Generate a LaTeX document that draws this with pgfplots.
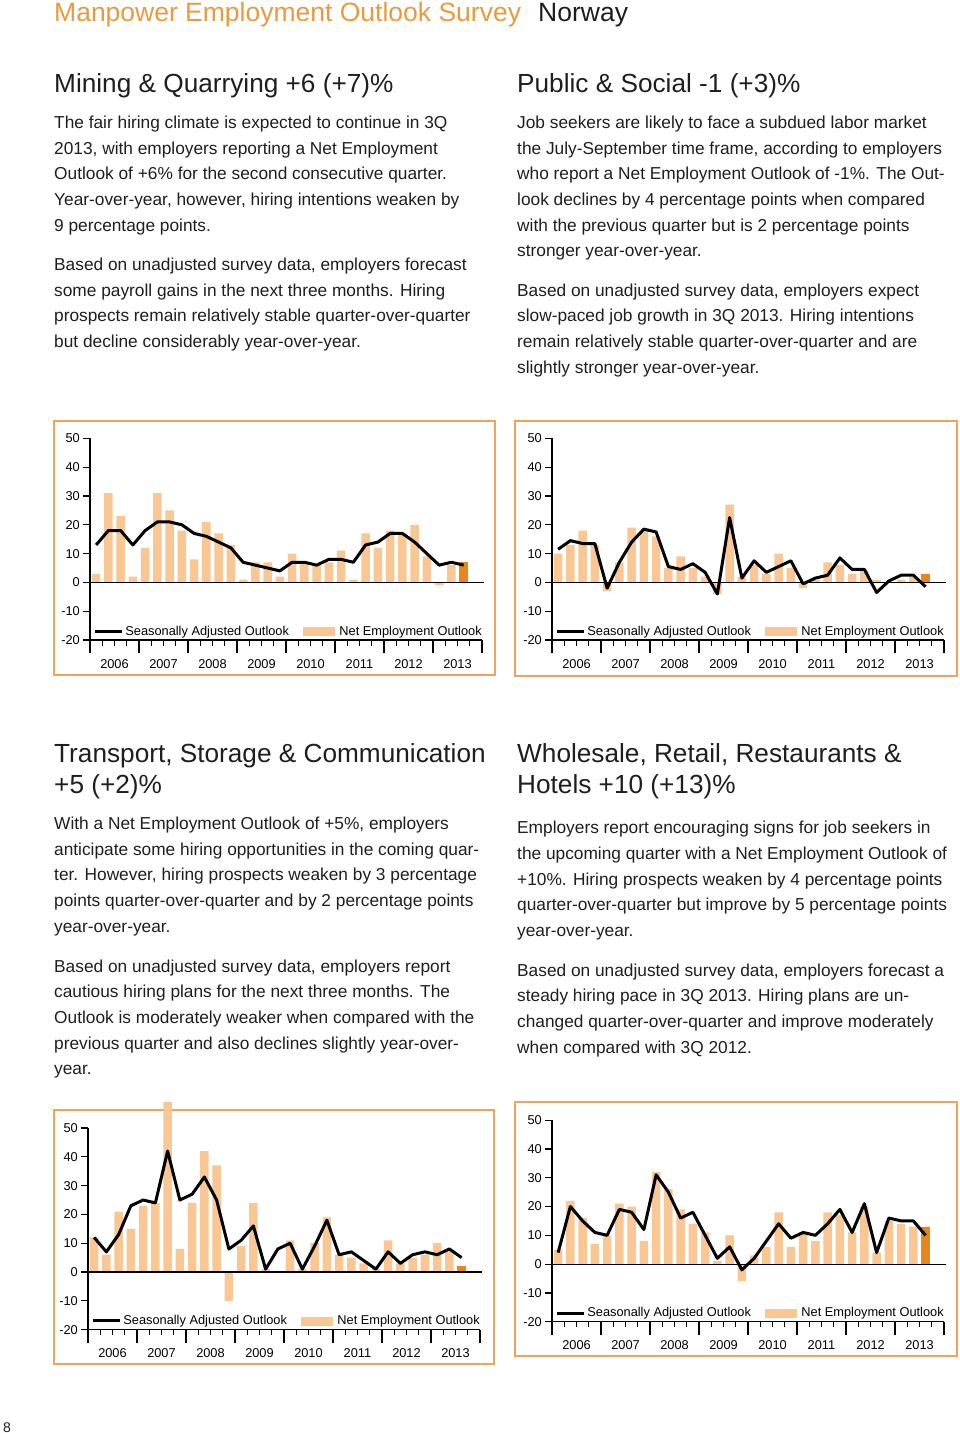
\documentclass[border=0pt]{standalone}
\usepackage{fontspec}
\setmainfont{Liberation Sans}
\usepackage{pgfplots}
\usepackage{pgfplotstable}
\pgfplotsset{compat=1.18}

\definecolor{orangeT}{HTML}{E99A3F}
\definecolor{frameC}{HTML}{F2A25A}
\definecolor{barL}{HTML}{F9C794}
\definecolor{barD}{HTML}{E8861E}
\definecolor{txt}{HTML}{1E1E1E}

\newcommand\bodyfont{\fontsize{17.3}{25.7}\selectfont}
\newcommand\titlefont{\fontsize{26.2}{31}\selectfont}
\newcommand\chartfont{\fontsize{12.8}{14}\selectfont}
\newcommand\TL[3]{\node[anchor=base west,inner sep=0pt,font=\bodyfont,text=txt] at (#1pt,-#2pt) {#3};}
\newcommand\TT[3]{\node[anchor=base west,inner sep=0pt,font=\titlefont,text=txt] at (#1pt,-#2pt) {#3};}

% Mining & Quarrying
\pgfplotstableread{
x ne sa
0.5 3 13
1.5 31 18
2.5 23 18
3.5 2 13
4.5 12 18
5.5 31 21
6.5 25 21
7.5 18 20
8.5 8 17
9.5 21 16
10.5 17 14
11.5 13 12
12.5 1 7
13.5 7 6
14.5 7 5
15.5 2 4
16.5 10 7
17.5 7 7
18.5 6 6
19.5 7 8
20.5 11 8
21.5 1 7
22.5 17 13
23.5 12 14
24.5 18 17
25.5 17 17
26.5 20 14
27.5 9 10
28.5 -1 6
29.5 6 7
30.5 7 6
}\dataA
\pgfplotstableread{
x ne
30.5 7
}\lastA
% Public & Social
\pgfplotstableread{
x ne sa
0.5 10 11.5
1.5 13 14.5
2.5 18 13.5
3.5 13 13.5
4.5 -3 -2
5.5 7 7
6.5 19 14
7.5 18 18.5
8.5 16 17.5
9.5 5 5.5
10.5 9 4.5
11.5 5 6.5
12.5 2 3.5
13.5 -4 -4
14.5 27 22.5
15.5 2 1.5
16.5 6 7.5
17.5 3 3.5
18.5 10 5.5
19.5 5 7.5
20.5 -2 -0.5
21.5 1 1.5
22.5 7 2.5
23.5 6 8.5
24.5 3 4.5
25.5 4 4.5
26.5 1 -3.5
27.5 0 0.5
28.5 1 2.5
29.5 2 2.5
30.5 3 -1.5
}\dataB
\pgfplotstableread{
x ne
30.5 3
}\lastB
% Transport, Storage & Communication
\pgfplotstableread{
x ne sa
0.5 12 12
1.5 6 7
2.5 21 13
3.5 15 23
4.5 23 25
5.5 24 24
6.5 59 42
7.5 8 25
8.5 24 27
9.5 42 33
10.5 37 25
11.5 -10 8
12.5 9 11
13.5 24 16
14.5 1 1
15.5 0 8
16.5 11 10
17.5 1 1
18.5 10 9
19.5 19 18
20.5 6 6
21.5 5 7
22.5 3 4
23.5 1 1
24.5 11 7
25.5 3 3
26.5 5 6
27.5 6 7
28.5 10 6
29.5 7 8
30.5 2 5
}\dataC
\pgfplotstableread{
x ne
30.5 2
}\lastC
% Wholesale, Retail, Restaurants & Hotels
\pgfplotstableread{
x ne sa
0.5 5 4
1.5 22 20
2.5 16 15
3.5 7 11
4.5 10 10
5.5 21 19
6.5 20 18
7.5 8 12
8.5 32 31
9.5 26 25
10.5 19 16
11.5 14 18
12.5 11 10
13.5 1 2
14.5 10 6
15.5 -6 -2
16.5 3 2
17.5 6 8
18.5 18 14
19.5 6 9
20.5 11 11
21.5 8 10
22.5 18 14
23.5 17 19
24.5 11 11
25.5 20 21
26.5 4 4
27.5 15 16
28.5 14 15
29.5 13 15
30.5 13 10
}\dataD
\pgfplotstableread{
x ne
30.5 13
}\lastD

\pgfplotsset{
  moeo/.style={
    scale only axis, width=392pt, height=201.6pt,
    xmin=0, xmax=32, ymin=-20, ymax=50,
    axis lines*=left,
    axis line style={line width=1.2pt, black},
    tick style={line width=1.2pt, black},
    tick align=outside,
    xtick={0,4,...,32},
    x tick label as interval,
    xticklabels={2006,2007,2008,2009,2010,2011,2012,2013},
    minor x tick num=3,
    ytick={-20,-10,...,50},
    yticklabels={-20,-10,0,10,20,30,40,50},
    major tick length=7pt, minor tick length=5.5pt,
    tick label style={font=\chartfont, text=black},
    xticklabel style={anchor=base, yshift=-21pt},
    yticklabel style={anchor=east, inner sep=0pt, xshift=-3pt},
    clip=false,
    legend style={at={(axis cs:0.3,-17)}, anchor=west, draw=none, fill=none,
      inner sep=0pt, font=\chartfont, legend columns=2,
      /tikz/every even column/.append style={column sep=12pt},
      nodes={inner sep=1.5pt}},
    legend cell align=left,
  },
  yearticks/.style={
    scale only axis, width=392pt, height=201.6pt,
    xmin=0, xmax=32, ymin=-20, ymax=50,
    axis x line*=bottom, hide y axis,
    axis line style={line width=1.2pt, black},
    tick style={line width=1.2pt, black},
    tick align=outside, major tick length=13pt,
    xtick={0,4,...,32}, xticklabels={},
  },
}

\newcommand\chart[3]{%
  \begin{axis}[moeo, at={#1}, anchor=south west]
    \addplot[ybar, bar width=0.68, bar shift=0pt, fill=barL, draw=none, forget plot] table[x=x, y=ne] {#2};
    \addplot[ybar, bar width=0.68, bar shift=0pt, fill=barD, draw=none, forget plot] table[x=x, y=ne] {#3};
    \addplot[black, line width=1.2pt, forget plot] coordinates {(0,0) (32.2,0)};
    \addplot[black, line width=3pt, line join=round, forget plot] table[x=x, y=sa] {#2};
    \addlegendimage{legend image code/.code={\draw[black, line width=3pt] (0pt,0pt) -- (27pt,0pt);}}
    \addlegendentry{Seasonally Adjusted Outlook}
    \addlegendimage{legend image code/.code={\fill[barL] (0pt,-4pt) rectangle (31pt,4pt); \path (35pt,0pt);}}
    \addlegendentry{Net Employment Outlook}
  \end{axis}
  \begin{axis}[yearticks, at={#1}, anchor=south west]
  \end{axis}
}

\begin{document}
\begin{tikzpicture}[x=1pt,y=1pt]
\useasboundingbox (0pt,0pt) rectangle (960pt,-1433pt);

% header
\node[anchor=base west, inner sep=0pt, font=\fontsize{26.5}{30}\selectfont, text=orangeT] at (54pt,-21pt) {Manpower Employment Outlook Survey};
\node[anchor=base west, inner sep=0pt, font=\fontsize{26.5}{30}\selectfont, text=txt] at (538pt,-21pt) {Norway};

% section 1 left
\TT{54}{92}{Mining \& Quarrying +6 (+7)\%}
\TL{54}{128}{The fair hiring climate is expected to continue in 3Q}
\TL{54}{154}{2013, with employers reporting a Net Employment}
\TL{54}{179}{Outlook of +6\% for the second consecutive quarter.}
\TL{54}{205}{Year-over-year, however, hiring intentions weaken by}
\TL{54}{231}{9 percentage points.}
\TL{54}{270}{Based on unadjusted survey data, employers forecast}
\TL{54}{296}{some payroll gains in the next three months. Hiring}
\TL{54}{321}{prospects remain relatively stable quarter-over-quarter}
\TL{54}{347}{but decline considerably year-over-year.}

% section 1 right
\TT{517}{92}{Public \& Social -1 (+3)\%}
\TL{517}{128}{Job seekers are likely to face a subdued labor market}
\TL{517}{154}{the July-September time frame, according to employers}
\TL{517}{179}{who report a Net Employment Outlook of -1\%. The Out-}
\TL{517}{205}{look declines by 4 percentage points when compared}
\TL{517}{231}{with the previous quarter but is 2 percentage points}
\TL{517}{256}{stronger year-over-year.}
\TL{517}{296}{Based on unadjusted survey data, employers expect}
\TL{517}{321}{slow-paced job growth in 3Q 2013. Hiring intentions}
\TL{517}{347}{remain relatively stable quarter-over-quarter and are}
\TL{517}{373}{slightly stronger year-over-year.}

% section 2 left
\TT{54}{762}{Transport, Storage \& Communication}
\TT{54}{793}{+5 (+2)\%}
\TL{54}{829}{With a Net Employment Outlook of +5\%, employers}
\TL{54}{855}{anticipate some hiring opportunities in the coming quar-}
\TL{54}{880}{ter. However, hiring prospects weaken by 3 percentage}
\TL{54}{906}{points quarter-over-quarter and by 2 percentage points}
\TL{54}{932}{year-over-year.}
\TL{54}{972}{Based on unadjusted survey data, employers report}
\TL{54}{997}{cautious hiring plans for the next three months. The}
\TL{54}{1023}{Outlook is moderately weaker when compared with the}
\TL{54}{1049}{previous quarter and also declines slightly year-over-}
\TL{54}{1074}{year.}

% section 2 right
\TT{517}{762}{Wholesale, Retail, Restaurants \&}
\TT{517}{793}{Hotels +10 (+13)\%}
\TL{517}{833}{Employers report encouraging signs for job seekers in}
\TL{517}{859}{the upcoming quarter with a Net Employment Outlook of}
\TL{517}{885}{+10\%. Hiring prospects weaken by 4 percentage points}
\TL{517}{910}{quarter-over-quarter but improve by 5 percentage points}
\TL{517}{936}{year-over-year.}
\TL{517}{976}{Based on unadjusted survey data, employers forecast a}
\TL{517}{1001}{steady hiring pace in 3Q 2013. Hiring plans are un-}
\TL{517}{1027}{changed quarter-over-quarter and improve moderately}
\TL{517}{1053}{when compared with 3Q 2012.}

% frames
\draw[frameC, line width=2pt] (54pt,-421pt) rectangle (495pt,-675pt);
\draw[frameC, line width=2pt] (515pt,-421pt) rectangle (957pt,-676pt);
\draw[frameC, line width=2pt] (54pt,-1110pt) rectangle (494pt,-1364pt);
\draw[frameC, line width=2pt] (515pt,-1102pt) rectangle (957pt,-1356pt);

\chart{(90pt,-640pt)}{\dataA}{\lastA}
\chart{(552pt,-640pt)}{\dataB}{\lastB}
\chart{(88pt,-1329.6pt)}{\dataC}{\lastC}
\chart{(552pt,-1321.7pt)}{\dataD}{\lastD}

\node[anchor=base west, inner sep=0pt, font=\fontsize{14}{16}\selectfont, text=txt] at (3pt,-1432pt) {8};
\end{tikzpicture}
\end{document}
